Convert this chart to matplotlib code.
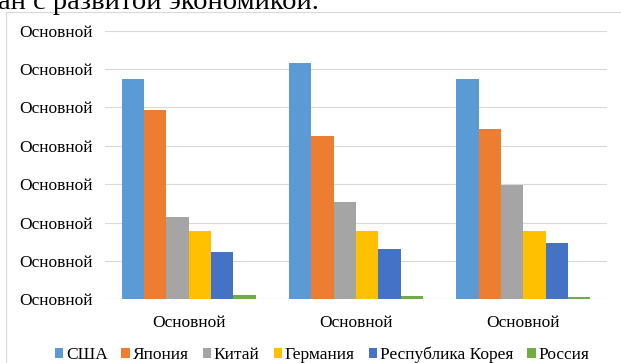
import numpy as np
import matplotlib.pyplot as plt
from matplotlib.patches import Rectangle

plt.rcParams['font.family'] = ['Liberation Serif', 'DejaVu Serif']

categories = ['Основной', 'Основной', 'Основной']
series = ['США', 'Япония', 'Китай', 'Германия', 'Республика Корея', 'Россия']
values = {
    'США': [5.74, 6.16, 5.74],
    'Япония': [4.93, 4.25, 4.44],
    'Китай': [2.15, 2.54, 2.97],
    'Германия': [1.78, 1.78, 1.78],
    'Республика Корея': [1.23, 1.31, 1.46],
    'Россия': [0.11, 0.09, 0.06],
}
colors = ['#5B9BD5', '#ED7D31', '#A5A5A5', '#FFC000', '#4472C4', '#70AD47']
ytick_vals = [0, 1, 2, 3, 4, 5, 6, 7]
ytick_labels = ['Основной'] * 8

W, H = 621, 363
fig = plt.figure(figsize=(W / 100, H / 100), dpi=100)
ax = fig.add_axes([105 / W, 1 - 299.3 / H, 502 / W, (299.3 - 30.6) / H])

x = np.arange(len(categories))
bw = 22.3 / 167.3
handles = []
for i, name in enumerate(series):
    b = ax.bar(x + (i - 2.5) * bw, values[name], bw, color=colors[i], label=name, zorder=3)
    handles.append(b)

ax.set_xlim(-0.5, 2.5)
ax.set_ylim(0, 7)
ax.set_yticks(ytick_vals)
ax.set_yticklabels(ytick_labels)
ax.set_xticks(x)
ax.set_xticklabels(categories)
ax.grid(axis='y', color='#d9d9d9', linewidth=0.8, zorder=0)
for s in ax.spines.values():
    s.set_visible(False)
ax.tick_params(length=0, labelsize=12.5, colors='#000000')
ax.tick_params(axis='y', pad=9)
ax.tick_params(axis='x', pad=11)
ax.axhline(0, color='#d9d9d9', linewidth=0.8, zorder=1)

# chart frame
fig.patches.append(Rectangle((6 / W, -0.05), (W + 10) / W, 1 - 12 / H + 0.05,
                             transform=fig.transFigure, fill=False,
                             edgecolor='#d9d9d9', linewidth=0.8))

fig.legend(handles=handles, loc='center', bbox_to_anchor=(322 / W, 1 - 355 / H),
           ncol=6, frameon=False, fontsize=12.5, handlelength=0.5, handleheight=0.5,
           handletextpad=0.15, columnspacing=0.8, borderpad=0)

fig.text(-0.003, 1 - 9 / H, 'ан с развитой экономикой.', fontsize=20.5,
         va='baseline', ha='left')

fig.savefig('out.png', dpi=100)
